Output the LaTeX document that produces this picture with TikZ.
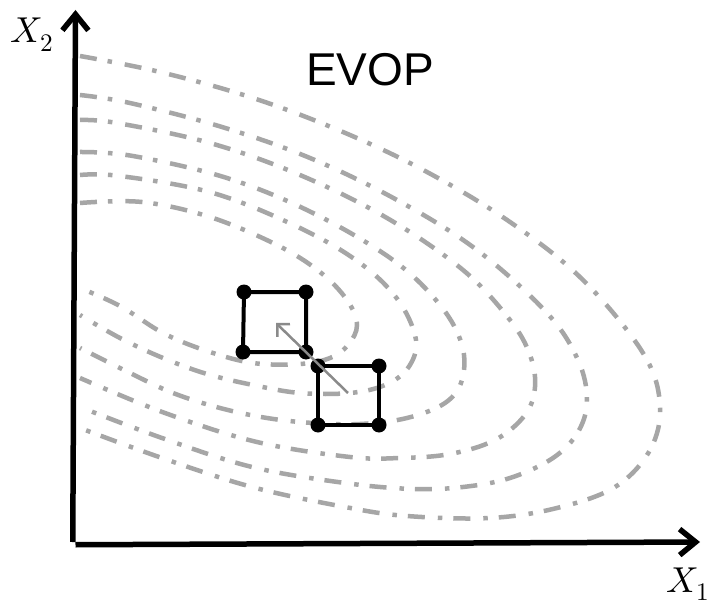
\documentclass[tikz,border=0pt]{standalone}
\usepackage{fontspec}
\usepackage{unicode-math}
\setmathfont{Latin Modern Math}
\newfontfamily\arialfont{Liberation Sans}
\usetikzlibrary{arrows.meta}
\definecolor{contourgray}{HTML}{A6A6A6}
\definecolor{movegray}{HTML}{8A8A8A}
\begin{document}
\begin{tikzpicture}[x=1pt,y=-1pt,
  contour/.style={draw=contourgray, line width=4.5pt, dash pattern=on 17pt off 11pt on 4.5pt off 13pt},
  axisline/.style={line width=5.5pt, -{Straight Barb[length=16pt,width=26pt]}},
  frameline/.style={line width=4pt},
  corner/.style={circle, fill=black, inner sep=0pt, minimum size=15pt},
  moveline/.style={draw=movegray, line width=2.5pt, -{Straight Barb[length=9pt,width=18pt]}},
  lab/.style={inner sep=0pt, font=\fontsize{36}{36}\selectfont}
]
\useasboundingbox (0,0) rectangle (713,610);
\fill[white] (0,0) rectangle (713,610);

% contours
\draw[contour] plot[smooth, tension=0.6] coordinates {(80,56) (160,72) (253,98) (343,132) (427,172) (510,222) (583,280) (643,353) (660,405) (650,450) (615,487) (557,508) (490,518) (407,516) (345,507) (252,487) (162,458) (80,428)};
\draw[contour] plot[smooth, tension=0.6] coordinates {(80,95) (130,103) (222,127) (310,158) (397,200) (477,250) (547,313) (578,360) (587,400) (578,432) (553,458) (510,478) (463,487) (413,489) (345,483) (252,467) (162,438) (80,407)};
\draw[contour] plot[smooth, tension=0.6] coordinates {(80,120) (117,123) (210,143) (300,175) (387,218) (463,270) (510,320) (530,355) (535,387) (525,415) (495,440) (450,454) (400,458) (350,457) (257,442) (165,413) (80,378)};
\draw[contour] plot[smooth, tension=0.6] coordinates {(80,152) (133,156) (227,178) (313,213) (393,260) (440,305) (462,345) (462,380) (445,403) (407,418) (360,424) (313,423) (267,418) (220,408) (173,393) (130,373) (80,348)};
\draw[contour] plot[smooth, tension=0.6] coordinates {(80,175) (120,176) (213,193) (300,228) (360,263) (398,300) (416,340) (408,368) (385,385) (350,393) (300,393) (253,385) (207,374) (163,358) (120,338) (80,315)};
\draw[contour] plot[smooth, tension=0.6] coordinates {(80,203) (142,202) (210,217) (277,245) (320,272) (347,300) (357,325) (348,345) (330,358) (300,364) (253,363) (207,351) (163,333) (120,306) (80,288)};

% EVOP squares
\node[corner] (a1) at (244,292) {};
\node[corner] (a2) at (306,292) {};
\node[corner] (a3) at (306,352) {};
\node[corner] (a4) at (243,352) {};
\draw[frameline] (a1.center) -- (a2.center) -- (a3.center) -- (a4.center) -- cycle;
\node[corner] (b1) at (318,366) {};
\node[corner] (b2) at (379,366) {};
\node[corner] (b3) at (379,425) {};
\node[corner] (b4) at (318,425) {};
\draw[frameline] (b1.center) -- (b2.center) -- (b3.center) -- (b4.center) -- cycle;

% move direction
\coordinate (ms) at (348,393);
\coordinate (me) at (276,323);
\draw[moveline] (ms) -- (me);

% axes
\coordinate (O) at (75.5,542);
\coordinate (xend) at (700,542);
\coordinate (yend) at (75.5,10);
\draw[axisline] ([yshift=-2.75pt]O) -- (xend);
\draw[axisline] ([xshift=-2.75pt]O) -- (yend);

% labels
\node[lab, anchor=base west] (x2) at (10,43) {$X_2$};
\node[lab, anchor=base east] (x1) at (710,592) {$X_1$};
\node[inner sep=0pt, anchor=base, font=\arialfont\fontsize{46}{46}\selectfont] (title) at (370,85) {EVOP};
\end{tikzpicture}
\end{document}
